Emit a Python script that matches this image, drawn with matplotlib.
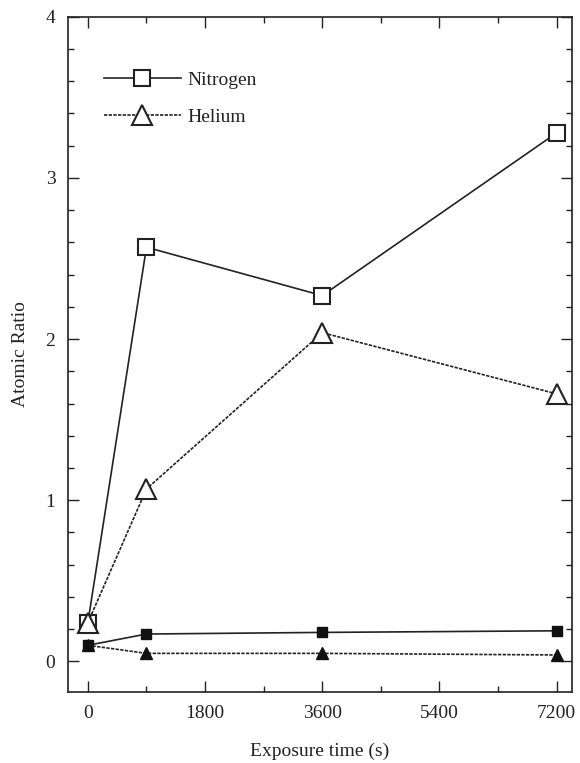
import matplotlib
matplotlib.use("Agg")
import matplotlib.pyplot as plt
from matplotlib.ticker import MultipleLocator

plt.rcParams['font.family'] = ['Liberation Serif', 'DejaVu Serif']

time_s = [0, 900, 3600, 7200]
nitrogen_open = [0.24, 2.57, 2.27, 3.28]
helium_open = [0.24, 1.07, 2.04, 1.66]
nitrogen_filled = [0.10, 0.17, 0.18, 0.19]
helium_filled = [0.10, 0.05, 0.05, 0.04]
x_ticks = [0, 1800, 3600, 5400, 7200]
y_ticks = [0, 1, 2, 3, 4]

fig = plt.figure(figsize=(5.8, 7.63), dpi=100)
ax = fig.add_axes([0.117, 0.093, 0.869, 0.885])

dash = (0, (2.0, 0.8))
ax.plot(time_s, nitrogen_open, '-', color='#222222', lw=1.2, marker='s', ms=11,
        mfc='white', mec='#222222', mew=1.5, label='Nitrogen', zorder=3)
ax.plot(time_s, helium_open, linestyle=dash, color='#222222', lw=1.2, marker='^', ms=14,
        mfc='white', mec='#222222', mew=1.5, label='Helium', zorder=3)
ax.plot(time_s, nitrogen_filled, '-', color='#222222', lw=1.2, marker='s', ms=7,
        mfc='#111111', mec='#111111', zorder=3)
ax.plot(time_s, helium_filled, linestyle=dash, color='#222222', lw=1.2, marker='^', ms=8,
        mfc='#111111', mec='#111111', zorder=3)

ax.set_xlim(-307, 7433)
ax.set_ylim(-0.19, 4.0)
ax.set_xticks(x_ticks)
ax.set_yticks(y_ticks)
ax.xaxis.set_minor_locator(MultipleLocator(900))
ax.yaxis.set_minor_locator(MultipleLocator(0.2))
ax.tick_params(which='both', direction='in', top=True, right=True, labelsize=14,
               width=1.0, colors='#222222')
ax.tick_params(which='major', length=8, pad=9)
ax.tick_params(which='minor', length=4)
for s in ax.spines.values():
    s.set_linewidth(1.2)
    s.set_color('#222222')

ax.set_xlabel('Exposure time (s)', fontsize=14, labelpad=15, color='#222222')
ax.set_ylabel('Atomic Ratio', fontsize=14, labelpad=12, color='#222222')

leg = ax.legend(loc='upper left', bbox_to_anchor=(0.036, 0.945), frameon=False, fontsize=14,
                handlelength=4.0, numpoints=1, markerscale=1.0, labelspacing=1.0,
                handletextpad=0.3)
for t in leg.get_texts():
    t.set_color('#222222')

fig.savefig('out.png', dpi=100)
